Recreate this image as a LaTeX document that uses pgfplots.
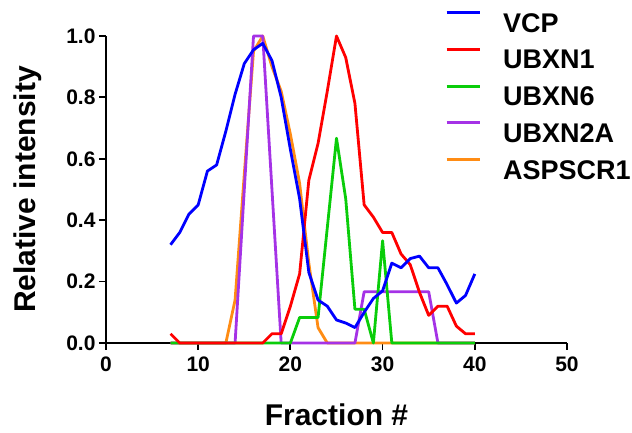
\documentclass[border=0pt]{standalone}
\usepackage{fontspec}
\setmainfont{Liberation Sans}
\usepackage{pgfplots}
\pgfplotsset{compat=1.18}
\definecolor{cvcp}{RGB}{0,0,255}
\definecolor{cubxnone}{RGB}{255,0,0}
\definecolor{cubxnsix}{RGB}{10,205,10}
\definecolor{cubxntwo}{RGB}{165,50,230}
\definecolor{casp}{RGB}{255,140,20}
\begin{document}
\begin{tikzpicture}
\begin{axis}[
 at={(0,0)}, anchor=south west,
 scale only axis, width=461pt, height=307pt,
 xmin=0, xmax=50, ymin=0, ymax=1,
 axis x line*=bottom, axis y line*=left,
 axis line style={line width=2.2pt, -},
 xtick={0,10,20,30,40,50}, ytick={0,0.2,0.4,0.6,0.8,1.0},
 tick align=outside, major tick length=7pt,
 tick style={line width=1.8pt, black},
 /pgf/number format/assume math mode=true,
 yticklabel style={/pgf/number format/fixed, /pgf/number format/fixed zerofill, /pgf/number format/precision=1},
 ticklabel style={font=\fontsize{21}{21}\selectfont\bfseries},
 xticklabel style={yshift=-3pt},
 xlabel={Fraction \#}, ylabel={Relative intensity},
 label style={font=\fontsize{30}{30}\selectfont\bfseries},
 xlabel style={at={(axis description cs:0.5,0)}, anchor=base, yshift=-82pt},
 ylabel style={at={(axis description cs:-0.154,0.5)}, anchor=base},
 clip=false,
 every axis plot/.append style={line width=2.8pt, line join=round},
 legend style={at={(rel axis cs:0.7354,1.081)}, anchor=north west, draw=none, fill=none, inner sep=0pt,
   font=\fontsize{27}{27}\selectfont\bfseries, row sep=15.8pt,
   nodes={inner sep=0pt, text height=19.5pt, text depth=0pt},
   /tikz/every odd column/.style={column sep=22pt}},
 legend cell align=left,
 legend image code/.code={\draw[#1] (0pt,9.75pt) -- (33pt,9.75pt);},
 reverse legend,
]
\addplot[casp] coordinates {(7,0)(8,0)(9,0)(10,0)(11,0)(12,0)(13,0)(14,0.14)(15,0.55)(16,0.95)(17,1.0)(18,0.90)(19,0.82)(20,0.68)(21,0.52)(22,0.26)(23,0.05)(24,0)(25,0)(26,0)(27,0)(28,0)(29,0)(30,0)(31,0)(32,0)(33,0)(34,0)(35,0)(36,0)(37,0)(38,0)(39,0)(40,0)};
\addlegendentry{ASPSCR1}
\addplot[cubxntwo] coordinates {(7,0)(8,0)(9,0)(10,0)(11,0)(12,0)(13,0)(14,0)(15,0.5)(16,1)(17,1)(18,0.5)(19,0)(20,0)(21,0)(22,0)(23,0)(24,0)(25,0)(26,0)(27,0)(28,0.167)(29,0.167)(30,0.167)(31,0.167)(32,0.167)(33,0.167)(34,0.167)(35,0.167)(36,0)(37,0)(38,0)(39,0)(40,0)};
\addlegendentry{UBXN2A}
\addplot[cubxnsix] coordinates {(7,0)(8,0)(9,0)(10,0)(11,0)(12,0)(13,0)(14,0)(15,0)(16,0)(17,0)(18,0)(19,0)(20,0)(21,0.083)(22,0.083)(23,0.083)(24,0.375)(25,0.667)(26,0.47)(27,0.11)(28,0.11)(29,0)(30,0.333)(31,0)(32,0)(33,0)(34,0)(35,0)(36,0)(37,0)(38,0)(39,0)(40,0)};
\addlegendentry{UBXN6}
\addplot[cubxnone] coordinates {(7,0.03)(8,0)(9,0)(10,0)(11,0)(12,0)(13,0)(14,0)(15,0)(16,0)(17,0)(18,0.03)(19,0.03)(20,0.12)(21,0.225)(22,0.53)(23,0.65)(24,0.82)(25,1.0)(26,0.93)(27,0.78)(28,0.45)(29,0.41)(30,0.36)(31,0.36)(32,0.29)(33,0.255)(34,0.165)(35,0.09)(36,0.12)(37,0.12)(38,0.055)(39,0.03)(40,0.03)};
\addlegendentry{UBXN1}
\addplot[cvcp] coordinates {(7,0.32)(8,0.36)(9,0.42)(10,0.45)(11,0.56)(12,0.58)(13,0.69)(14,0.81)(15,0.91)(16,0.955)(17,0.976)(18,0.92)(19,0.80)(20,0.63)(21,0.47)(22,0.23)(23,0.14)(24,0.12)(25,0.075)(26,0.065)(27,0.05)(28,0.10)(29,0.145)(30,0.17)(31,0.26)(32,0.245)(33,0.275)(34,0.283)(35,0.245)(36,0.245)(37,0.19)(38,0.13)(39,0.155)(40,0.225)};
\addlegendentry{VCP}
\end{axis}
\pgfresetboundingbox
\path (-106pt,-90pt) rectangle (526pt,343pt);
\end{tikzpicture}
\end{document}
